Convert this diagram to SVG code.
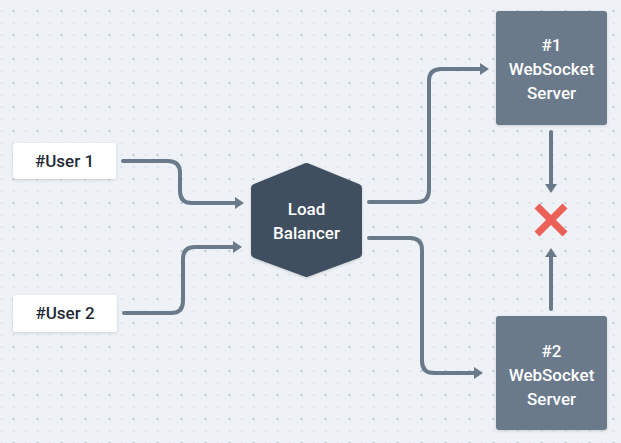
<svg xmlns="http://www.w3.org/2000/svg" width="621" height="443" viewBox="0 0 621 443">
<defs>
<pattern id="grid" width="24" height="24" patternUnits="userSpaceOnUse">
<rect x="0.5" y="10" width="2" height="2" fill="#dfe4ea"/>
<rect x="12.5" y="10" width="2" height="2" fill="#bec8d3"/>
<rect x="0.5" y="22" width="2" height="2" fill="#dfe4ea"/>
<rect x="12.5" y="22" width="2" height="2" fill="#dfe4ea"/>
</pattern>
<marker id="ah" markerUnits="userSpaceOnUse" markerWidth="9" markerHeight="12" refX="0" refY="6" orient="auto" viewBox="0 0 9 12">
<path d="M0,0 L9,6 L0,12 Z" fill="#6b7a8b"/>
</marker>
<filter id="sh" x="-10%" y="-10%" width="130%" height="130%">
<feDropShadow dx="0" dy="1" stdDeviation="1.5" flood-color="#000" flood-opacity="0.15"/>
</filter>
</defs>
<style>
.lbl{font-family:Roboto,"Noto Sans",sans-serif;font-size:17px;font-weight:500;text-anchor:middle}
.dark{fill:#1f2a37}
.light{fill:#ffffff}
.conn{fill:none;stroke:#6b7a8b;stroke-width:4;stroke-linecap:round;marker-end:url(#ah)}
.user{fill:#ffffff;filter:url(#sh)}
.srv{fill:#6b7a8b;filter:url(#sh)}
</style>
<rect width="621" height="443" fill="#eef1f5"/>
<rect width="621" height="443" fill="url(#grid)"/>
<g id="connectors">
<path class="conn" d="M123,161 H168 Q180,161 180,173 V191 Q180,203 192,203 H235"/>
<path class="conn" d="M124,313 H171 Q183,313 183,301 V259 Q183,247 195,247 H233"/>
<path class="conn" d="M369,202 H417 Q429,202 429,190 V81 Q429,69 441,69 H480"/>
<path class="conn" d="M369,238 H410 Q422,238 422,250 V361 Q422,373 434,373 H474"/>
<path class="conn" d="M551,132 V184"/>
<path class="conn" d="M551,309 V257"/>
</g>
<g id="user1">
<rect class="user" x="13" y="143" width="103" height="36" rx="3"/>
<text class="lbl dark" x="64.5" y="167">#User 1</text>
</g>
<g id="user2">
<rect class="user" x="13" y="295" width="104" height="37" rx="3"/>
<text class="lbl dark" x="65" y="319">#User 2</text>
</g>
<g id="loadbalancer">
<polygon points="306.5,167 358,188 358,254 306.5,273 255,254 255,188" fill="#3f4f5f" stroke="#3f4f5f" stroke-width="8" stroke-linejoin="round" filter="url(#sh)"/>
<text class="lbl light" x="306.5" y="215">Load</text>
<text class="lbl light" x="306.5" y="239">Balancer</text>
</g>
<g id="server1">
<rect class="srv" x="496" y="11" width="111" height="114" rx="3"/>
<text class="lbl light" x="551.5" y="51">#1</text>
<text class="lbl light" x="551.5" y="75">WebSocket</text>
<text class="lbl light" x="551.5" y="99">Server</text>
</g>
<g id="server2">
<rect class="srv" x="496" y="316" width="111" height="114" rx="3"/>
<text class="lbl light" x="551.5" y="357">#2</text>
<text class="lbl light" x="551.5" y="381">WebSocket</text>
<text class="lbl light" x="551.5" y="405">Server</text>
</g>
<g id="xmark">
<path d="M537,206 L565,234 M565,206 L537,234" stroke="#eb6157" stroke-width="7" fill="none"/>
</g>
</svg>
